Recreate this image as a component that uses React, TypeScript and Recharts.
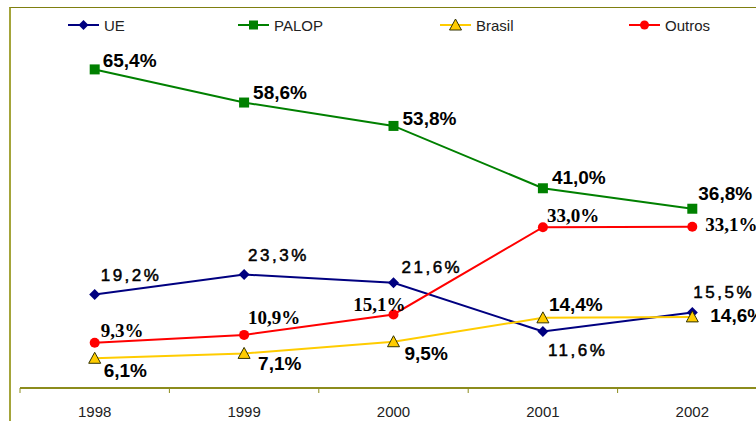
import React from "react";
import { LineChart, Line, XAxis, YAxis, LabelList } from "recharts";

const years = ["1998", "1999", "2000", "2001", "2002"];
const ue = [19.2, 23.3, 21.6, 11.6, 15.5];
const palop = [65.4, 58.6, 53.8, 41.0, 36.8];
const brasil = [6.1, 7.1, 9.5, 14.4, 14.6];
const outros = [9.3, 10.9, 15.1, 33.0, 33.1];

// label placement relative to each point [dx, dy]
const ueLabelPos = [[6, -13], [4, -13], [8, -10], [5, 25], [1, -14]];
const palopLabelPos = [[8, -2], [9, -4], [9, -1], [9, -4], [6, -9]];
const brasilLabelPos = [[9, 19], [14, 17], [11, 18], [6, -7], [18, 5]];
const outrosLabelPos = [[6, -6], [4, -11], [12, -3], [4, -5], [13, 4]];

const data = years.map((year, i) => ({
  year,
  UE: ue[i],
  PALOP: palop[i],
  Brasil: brasil[i],
  Outros: outros[i],
}));

const CHART_W = 772;
const CHART_H = 421;
const MARGIN = { top: 47, right: 5, left: 20, bottom: 0 };
const HALF_BAND = (CHART_W - MARGIN.left - MARGIN.right) / years.length / 2;

const AXIS = "#8c8c1c";
const NAVY = "#000080";
const GREEN = "#008000";
const GOLD = "#FFCC00";
const RED = "#FF0000";

const fmt = (v: number) => v.toFixed(1).replace(".", ",") + "%";

const Diamond = ({ cx, cy, size = 5.5 }: any) => (
  <polygon
    points={`${cx},${cy - size} ${cx + size},${cy} ${cx},${cy + size} ${cx - size},${cy}`}
    fill={NAVY}
  />
);
const Square = ({ cx, cy, size = 5 }: any) => (
  <rect x={cx - size} y={cy - size} width={size * 2} height={size * 2} fill={GREEN} />
);
const Triangle = ({ cx, cy, size = 6 }: any) => (
  <polygon
    points={`${cx},${cy - size} ${cx + size},${cy + size - 1} ${cx - size},${cy + size - 1}`}
    fill={GOLD}
    stroke="#333300"
    strokeWidth={1}
  />
);
const Circle = ({ cx, cy, size = 5 }: any) => <circle cx={cx} cy={cy} r={size} fill={RED} />;

const makeLabel =
  (pos: number[][], style: React.CSSProperties, anchorEnd: number[] = []) =>
  (props: any) => {
    const { x, y, value, index } = props;
    const [dx, dy] = pos[index];
    return (
      <text
        x={x + dx}
        y={y + dy}
        textAnchor={anchorEnd.includes(index) ? "end" : "start"}
        style={style}
        fill="#000"
      >
        {fmt(value)}
      </text>
    );
  };

const boldSans: React.CSSProperties = {
  fontFamily: "'Liberation Sans', Arial, sans-serif",
  fontWeight: 700,
  fontSize: 19,
};
const spacedSans: React.CSSProperties = {
  fontFamily: "'Liberation Sans', Arial, sans-serif",
  fontSize: 17,
  letterSpacing: 2.5,
  stroke: "#000",
  strokeWidth: 0.5,
};
const boldSerif: React.CSSProperties = {
  fontFamily: "'Liberation Serif', 'Times New Roman', serif",
  fontWeight: 700,
  fontSize: 19,
};

const YearTick = ({ x, y, payload }: any) => (
  <g>
    <line x1={x - HALF_BAND} y1={y} x2={x - HALF_BAND} y2={y + 5} stroke={AXIS} strokeWidth={1} />
    <text
      x={x}
      y={y + 29}
      textAnchor="middle"
      fill="#222"
      style={{ fontFamily: "'Liberation Sans', Arial, sans-serif", fontSize: 15 }}
    >
      {payload.value}
    </text>
  </g>
);

const legendItems = [
  { name: "UE", color: NAVY, Marker: Diamond, left: 68 },
  { name: "PALOP", color: GREEN, Marker: Square, left: 238 },
  { name: "Brasil", color: GOLD, Marker: Triangle, left: 440 },
  { name: "Outros", color: RED, Marker: Circle, left: 629 },
];

const ChartLegend = () => (
  <div style={{ position: "absolute", left: 0, top: 15, width: 756, height: 20 }}>
    {legendItems.map(({ name, color, Marker, left }) => (
      <div
        key={name}
        style={{ position: "absolute", left, top: 0, display: "flex", alignItems: "center", height: 20 }}
      >
        <svg width={32} height={20}>
          <line x1={0} y1={10} x2={31} y2={10} stroke={color} strokeWidth={2} />
          <Marker cx={15.5} cy={10} size={name === "UE" ? 5 : name === "Brasil" ? 6 : 4.5} />
        </svg>
        <span
          style={{
            marginLeft: 4,
            fontFamily: "'Liberation Sans', Arial, sans-serif",
            fontSize: 15,
            color: "#222",
          }}
        >
          {name}
        </span>
      </div>
    ))}
  </div>
);

export default function App() {
  return (
    <div
      style={{
        position: "fixed",
        left: 0,
        top: 0,
        width: 756,
        height: 421,
        overflow: "hidden",
        background: "#fff",
      }}
    >
      <div
        style={{
          position: "absolute",
          left: 9,
          top: 7,
          right: 0,
          bottom: 0,
          borderTop: "1px solid #7f7f10",
          borderLeft: "2px solid #a4a43a",
        }}
      />
      <ChartLegend />
      <div style={{ position: "absolute", left: 0, top: 0 }}>
        <LineChart width={CHART_W} height={CHART_H} data={data} margin={MARGIN}>
          <XAxis
            dataKey="year"
            padding={{ left: HALF_BAND, right: HALF_BAND }}
            height={33}
            tickLine={false}
            tickSize={0}
            tickMargin={0}
            axisLine={{ stroke: AXIS, strokeWidth: 2 }}
            tick={<YearTick />}
            interval={0}
          />
          <YAxis hide domain={[0, 70]} />
          <Line
            dataKey="UE"
            stroke={NAVY}
            strokeWidth={2}
            isAnimationActive={false}
            dot={(p: any) => <Diamond key={p.index} cx={p.cx} cy={p.cy} />}
          >
            <LabelList dataKey="UE" content={makeLabel(ueLabelPos, spacedSans)} />
          </Line>
          <Line
            dataKey="PALOP"
            stroke={GREEN}
            strokeWidth={2}
            isAnimationActive={false}
            dot={(p: any) => <Square key={p.index} cx={p.cx} cy={p.cy} />}
          >
            <LabelList dataKey="PALOP" content={makeLabel(palopLabelPos, boldSans)} />
          </Line>
          <Line
            dataKey="Brasil"
            stroke={GOLD}
            strokeWidth={2}
            isAnimationActive={false}
            dot={(p: any) => <Triangle key={p.index} cx={p.cx} cy={p.cy} />}
          >
            <LabelList dataKey="Brasil" content={makeLabel(brasilLabelPos, boldSans)} />
          </Line>
          <Line
            dataKey="Outros"
            stroke={RED}
            strokeWidth={2}
            isAnimationActive={false}
            dot={(p: any) => <Circle key={p.index} cx={p.cx} cy={p.cy} />}
          >
            <LabelList dataKey="Outros" content={makeLabel(outrosLabelPos, boldSerif, [2])} />
          </Line>
        </LineChart>
      </div>
    </div>
  );
}
